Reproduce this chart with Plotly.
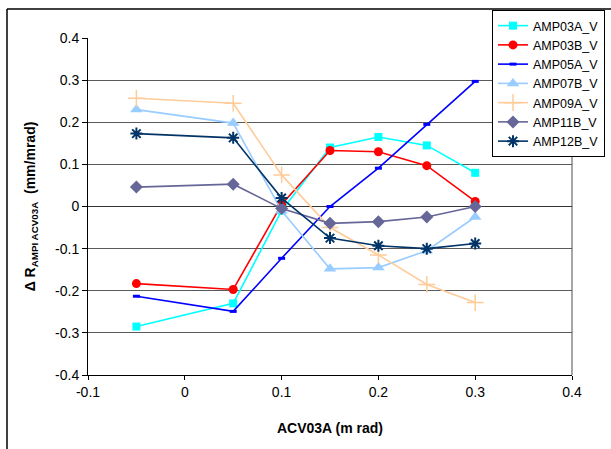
import plotly.graph_objects as go

x_vals = [-0.05, 0.05, 0.1, 0.15, 0.2, 0.25, 0.3]

series_names = ["AMP03A_V", "AMP03B_V", "AMP05A_V", "AMP07B_V", "AMP09A_V", "AMP11B_V", "AMP12B_V"]

amp03a = [-0.285, -0.230, -0.010, 0.140, 0.165, 0.145, 0.080]
amp03b = [-0.183, -0.197, 0.005, 0.133, 0.130, 0.097, 0.012]
amp05a = [-0.213, -0.249, -0.123, 0.000, 0.091, 0.195, 0.297]
amp07b = [0.230, 0.198, -0.010, -0.148, -0.145, -0.105, -0.025]
amp09a = [0.257, 0.245, 0.075, -0.050, -0.115, -0.185, -0.228]
amp11b = [0.046, 0.053, -0.005, -0.040, -0.036, -0.025, 0.000]
amp12b = [0.173, 0.163, 0.020, -0.075, -0.093, -0.100, -0.088]

values = [amp03a, amp03b, amp05a, amp07b, amp09a, amp11b, amp12b]

colors = ["#00FFFF", "#FF0000", "#0000FF", "#99CCFF", "#FFCC99", "#666699", "#003366"]
symbols = ["square", "circle", "line-ew-open", "triangle-up", "cross-thin-open", "diamond", "asterisk-open"]
sizes = [8, 9, 5, 11, 12, 10, 10]
mlw = [0, 0, 3, 0, 1.5, 0, 2]

fig = go.Figure()
for name, ys, c, s, sz, lw in zip(series_names, values, colors, symbols, sizes, mlw):
    fig.add_trace(go.Scatter(
        x=x_vals, y=ys, name=name, mode="lines+markers",
        line=dict(color=c, width=1.6),
        marker=dict(symbol=s, size=sz, color=c, line=dict(color=c, width=lw)),
    ))

L, R, T, B = 88, 572, 38, 375
W, H = 611, 449
pw, ph = R - L, B - T

def px(xp):
    return (xp - L) / pw

def py(yp):
    return 1 - (yp - T) / ph

font = "Liberation Sans, Arial, sans-serif"

fig.update_layout(
    width=W, height=H,
    margin=dict(l=L, r=W - R, t=T, b=H - B, autoexpand=False),
    paper_bgcolor="white", plot_bgcolor="white",
    font=dict(family=font, size=14, color="black"),
    showlegend=True,
    legend=dict(
        x=px(492), y=py(10), xanchor="left", yanchor="top",
        bordercolor="black", borderwidth=1, bgcolor="white",
        font=dict(size=12.5, family=font), tracegroupgap=0,
        itemwidth=30,
    ),
    xaxis=dict(
        range=[-0.1, 0.4], tickvals=[-0.1, 0, 0.1, 0.2, 0.3, 0.4],
        ticktext=["-0.1", "0", "0.1", "0.2", "0.3", "0.4"],
        showgrid=False, zeroline=False,
        showline=True, linecolor="black", linewidth=1,
        ticks="outside", ticklen=4, tickcolor="black",
        title=dict(text="<b>ACV03A (m rad)</b>", font=dict(size=14), standoff=24),
    ),
    yaxis=dict(
        range=[-0.4, 0.4], tickvals=[-0.4, -0.3, -0.2, -0.1, 0, 0.1, 0.2, 0.3, 0.4],
        ticktext=["-0.4", "-0.3", "-0.2", "-0.1", "0", "0.1", "0.2", "0.3", "0.4"],
        showgrid=True, gridcolor="#5a5a5a", gridwidth=1,
        zeroline=True, zerolinecolor="#333333", zerolinewidth=1,
        showline=True, linecolor="black", linewidth=1,
        ticks="outside", ticklen=5, tickcolor="black",
        title=dict(text="<b>Δ R<sub>AMPI ACV03A</sub>  (mm/mrad)</b>", font=dict(size=14), standoff=16),
    ),
    shapes=[
        dict(type="line", xref="paper", yref="paper", x0=1, x1=1, y0=0, y1=1,
             line=dict(color="#888888", width=1.5), layer="below"),
        dict(type="line", xref="paper", yref="paper", x0=px(7), x1=px(W + 5), y0=py(9), y1=py(9),
             line=dict(color="black", width=1.5)),
        dict(type="line", xref="paper", yref="paper", x0=px(7), x1=px(7), y0=py(9), y1=py(H + 5),
             line=dict(color="black", width=1.5)),
    ],
)

fig.write_html("out.html", config={"displayModeBar": False},
               post_script="document.body.style.margin='0px';document.body.style.overflow='hidden';")
